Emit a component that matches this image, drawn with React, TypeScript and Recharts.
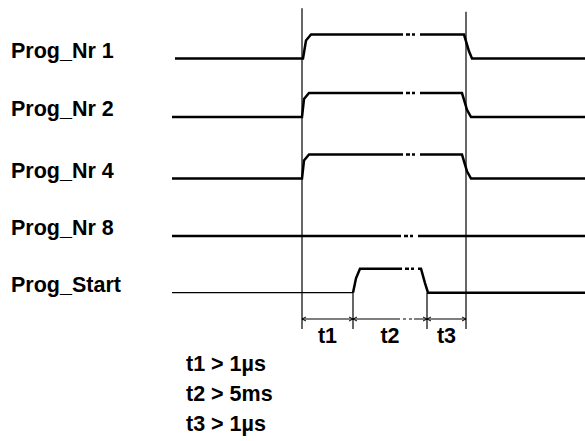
import { ComposedChart, Line, Scatter, XAxis, YAxis } from "recharts";

// rows of the timing diagram, top to bottom
const rowNames = ["Prog_Nr 1", "Prog_Nr 2", "Prog_Nr 4", "Prog_Nr 8", "Prog_Start"];
const rowBase = [4, 3, 1.95, 0.97, 0];
const HIGH = 0.41; // height of a high level, in row units
const rowLabelTime = 11;

// edges of each signal: time + level (0 low, 1 high, null = break for the "..." gap)
const nr1Times = [175, 303, 306, 311, 403, 411, 420, 464, 469, 472, 585];
const nr1Levels = [0, 0, 0.75, 1, 1, null, 1, 1, 0.3, 0, 0];
const nr2Times = [172, 302, 304, 309, 403, 411, 420, 462, 467, 471, 585];
const nr2Levels = [0, 0, 0.75, 1, 1, null, 1, 1, 0.3, 0, 0];
const nr4Times = [172, 302, 304, 309, 403, 411, 420, 462, 467, 471, 585];
const nr4Levels = [0, 0, 0.75, 1, 1, null, 1, 1, 0.3, 0, 0];
const nr8Times = [172, 401, 409, 418, 585];
const nr8Levels = [0, 0, null, 0, 0];
const startTimes = [172, 353, 356, 360, 402, 410, 418, 421, 425, 428, 585];
const startLevels = [0, 0, 0.6, 1, 1, null, 1, 1, 0.4, 0, 0];

// the "..." part of every row: from, to, level
const gapFrom = [403, 403, 403, 401, 402];
const gapTo = [420, 420, 420, 418, 418];
const gapLevel = [1, 1, 1, 0, 1];

// marker lines and the t1/t2/t3 dimension
const markerTimes = [302, 466];
const markerTop = [4.86, 4.8];
const markerBottom = -0.62;
const spanEdges = [302, 353, 427, 466];
const spanNames = ["t1", "t2", "t3"];
const dimLevel = -0.45;
const spanLabelLevel = -0.86;

const notes = ["t1 > 1µs", "t2 > 5ms", "t3 > 1µs"];
const noteLevels = [-1.34, -1.85, -2.36];
const noteTime = 186;

const FONT = "'Liberation Sans', Arial, sans-serif";

const toPoints = (times: number[], levels: (number | null)[], base: number) =>
  times.map((t, i) => ({ t, v: levels[i] == null ? null : base + (levels[i] as number) * HIGH }));

const signals = [
  toPoints(nr1Times, nr1Levels, rowBase[0]),
  toPoints(nr2Times, nr2Levels, rowBase[1]),
  toPoints(nr4Times, nr4Levels, rowBase[2]),
  toPoints(nr8Times, nr8Levels, rowBase[3]),
];
const startPoints = toPoints(startTimes, startLevels, rowBase[4]);

const gaps = rowBase.map((b, i) => [
  { t: gapFrom[i], v: b + gapLevel[i] * HIGH },
  { t: gapTo[i], v: b + gapLevel[i] * HIGH },
]);

const markers = markerTimes.map((t, i) => [
  { t, v: markerTop[i] },
  { t, v: markerBottom },
]);
const edgeMarkers = spanEdges.slice(1, 3).map((t) => [
  { t, v: rowBase[4] },
  { t, v: markerBottom },
]);

const dimLine = [
  { t: spanEdges[0], v: dimLevel },
  { t: 400, v: dimLevel },
  { t: 407, v: null },
  { t: 414, v: dimLevel },
  { t: spanEdges[3], v: dimLevel },
];
const dimGap = [
  { t: 400, v: dimLevel },
  { t: 414, v: dimLevel },
];
const arrowPoints = spanEdges.map((t, i) => ({ t, v: dimLevel, i }));
const spanLabels = spanNames.map((name, i) => ({
  t: (spanEdges[i] + spanEdges[i + 1]) / 2,
  v: spanLabelLevel,
  name,
}));
const notePoints = notes.map((name, i) => ({ t: noteTime, v: noteLevels[i], name }));
const rowLabels = rowNames.map((name, i) => ({ t: rowLabelTime, v: rowBase[i], name }));

const Arrow = (props: any) => {
  const { cx, cy, payload } = props;
  const parts: string[] = [];
  if (payload.i > 0) parts.push(`M${cx - 4},${cy - 2}L${cx},${cy}L${cx - 4},${cy + 2}`);
  if (payload.i < spanEdges.length - 1) parts.push(`M${cx + 4},${cy - 2}L${cx},${cy}L${cx + 4},${cy + 2}`);
  return <path d={parts.join("")} stroke="#000" strokeWidth={1} fill="none" />;
};

const Label = (anchor: "start" | "middle", dy = 0) => (props: any) => (
  <text
    x={props.cx}
    y={props.cy + dy}
    textAnchor={anchor}
    fontFamily={FONT}
    fontWeight="bold"
    fontSize={21.5}
    fill="#000"
  >
    {props.payload.name}
  </text>
);

const lineProps = {
  dataKey: "v",
  type: "linear" as const,
  stroke: "#000",
  dot: false,
  activeDot: false,
  connectNulls: false,
  isAnimationActive: false,
  legendType: "none" as const,
};

export default function App() {
  return (
    <div style={{ position: "absolute", left: 0, top: 0, width: 585, height: 441, background: "#fff" }}>
      <ComposedChart width={585} height={441} margin={{ top: 0, right: 0, bottom: 2, left: 0 }}>
        <XAxis type="number" dataKey="t" domain={[0, 585]} hide allowDataOverflow />
        <YAxis type="number" domain={[-2.5, 5]} hide allowDataOverflow />
        {markers.map((d, i) => (
          <Line key={`m${i}`} {...lineProps} data={d} strokeWidth={1.2} />
        ))}
        {edgeMarkers.map((d, i) => (
          <Line key={`e${i}`} {...lineProps} data={d} strokeWidth={1.2} />
        ))}
        {signals.map((d, i) => (
          <Line key={`s${i}`} {...lineProps} data={d} strokeWidth={2.5} />
        ))}
        <Line {...lineProps} data={startPoints.slice(0, 2)} strokeWidth={1.3} />
        <Line {...lineProps} data={startPoints.slice(1)} strokeWidth={2.5} />
        {gaps.map((d, i) => (
          <Line key={`g${i}`} {...lineProps} data={d} strokeWidth={2.5} strokeDasharray="0 3 4 2 3 10" />
        ))}
        <Line {...lineProps} data={dimLine} strokeWidth={1.2} />
        <Line {...lineProps} data={dimGap} strokeWidth={1.2} strokeDasharray="0 3 3 3 3 10" />
        <Scatter data={arrowPoints} dataKey="v" shape={Arrow} isAnimationActive={false} />
        <Scatter data={rowLabels} dataKey="v" shape={Label("start", -1)} isAnimationActive={false} />
        <Scatter data={spanLabels} dataKey="v" shape={Label("middle")} isAnimationActive={false} />
        <Scatter data={notePoints} dataKey="v" shape={Label("start")} isAnimationActive={false} />
      </ComposedChart>
    </div>
  );
}
